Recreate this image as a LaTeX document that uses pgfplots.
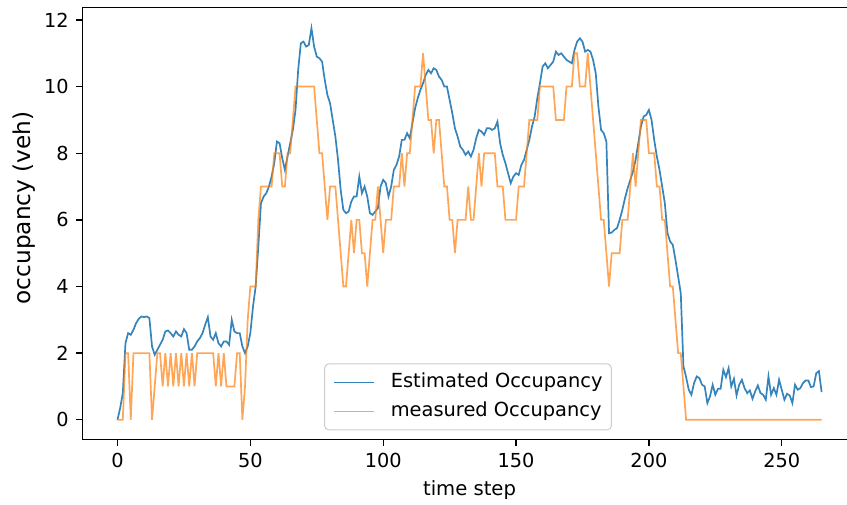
\documentclass[border=0pt]{standalone}
\usepackage{fontspec}
\setmainfont{DejaVu Sans}
\usepackage{pgfplots}
\usepackage{pgfplotstable}
\pgfplotsset{compat=1.18}
\definecolor{mplblue}{HTML}{1F77B4}
\definecolor{mplorange}{HTML}{FF7F0E}
\pgfplotstableread{
t E M
0 0.00 0
1 0.35 0
2 0.80 0
3 2.30 2
4 2.60 2
5 2.55 0
6 2.70 2
7 2.90 2
8 3.03 2
9 3.10 2
10 3.08 2
11 3.10 2
12 3.05 2
13 2.20 0
14 1.95 1
15 2.10 2
16 2.25 2
17 2.40 1
18 2.65 2
19 2.68 1
20 2.60 2
21 2.50 1
22 2.65 2
23 2.55 1
24 2.50 2
25 2.72 1
26 2.60 2
27 2.10 1
28 2.10 2
29 2.20 1
30 2.35 2
31 2.45 2
32 2.60 2
33 2.85 2
34 3.08 2
35 2.50 2
36 2.40 2
37 2.60 1
38 2.30 2
39 2.20 1
40 2.35 2
41 2.35 1
42 2.25 1
43 3.00 1
44 2.65 1
45 2.60 2
46 2.60 2
47 2.20 0
48 2.00 1
49 2.20 3
50 2.60 4
51 3.40 4
52 4.00 4
53 5.20 6
54 6.50 7
55 6.70 7
56 6.80 7
57 7.00 7
58 7.30 7
59 7.70 8
60 8.35 8
61 8.30 8
62 7.85 7
63 7.50 7
64 7.90 8
65 8.30 8
66 8.70 9
67 9.30 10
68 10.50 10
69 11.30 10
70 11.35 10
71 11.20 10
72 11.25 10
73 11.75 10
74 11.20 10
75 10.90 9
76 10.85 8
77 10.75 8
78 10.20 7
79 9.75 6
80 9.50 7
81 9.00 7
82 8.50 7
83 7.80 6
84 6.90 5
85 6.30 4
86 6.20 4
87 6.25 5
88 6.55 6
89 6.70 5
90 6.70 6
91 7.30 6
92 6.80 5
93 7.00 5
94 6.70 4
95 6.20 5
96 6.15 6
97 6.25 6
98 6.35 7
99 7.00 6
100 7.20 5
101 7.10 6
102 6.70 6
103 7.00 6
104 7.50 7
105 7.65 7
106 7.90 7
107 8.40 8
108 8.40 7
109 8.60 8
110 8.45 8
111 8.90 9
112 9.35 10
113 9.65 10
114 9.90 10
115 10.10 11
116 10.35 10
117 10.50 9
118 10.40 9
119 10.55 8
120 10.50 9
121 10.30 9
122 10.20 8
123 10.00 7
124 10.00 7
125 9.60 6
126 9.20 6
127 8.75 5
128 8.50 6
129 8.20 6
130 8.10 6
131 7.95 6
132 8.05 7
133 7.90 6
134 8.10 6
135 8.45 7
136 8.70 8
137 8.65 7
138 8.55 8
139 8.75 8
140 8.75 8
141 8.70 8
142 8.75 8
143 8.95 7
144 8.30 7
145 7.95 7
146 7.70 6
147 7.40 6
148 7.10 6
149 7.30 6
150 7.40 6
151 7.35 7
152 7.65 7
153 7.80 7
154 8.10 8
155 8.40 9
156 8.80 9
157 9.10 9
158 9.65 9
159 10.10 10
160 10.60 10
161 10.70 10
162 10.55 10
163 10.65 10
164 10.75 10
165 11.05 9
166 10.95 9
167 11.00 9
168 10.90 9
169 10.80 10
170 10.75 10
171 10.70 10
172 11.10 11
173 11.35 11
174 11.45 10
175 11.35 10
176 11.05 10
177 11.10 11
178 11.05 10
179 10.80 9
180 10.40 8
181 9.40 7
182 8.70 6
183 8.60 6
184 8.35 5
185 5.60 4
186 5.62 5
187 5.70 5
188 5.75 5
189 6.00 5
190 6.30 6
191 6.65 6
192 6.95 6
193 7.20 7
194 7.45 8
195 7.80 7
196 8.30 8
197 8.80 9
198 9.10 9
199 9.15 9
200 9.30 8
201 9.00 8
202 8.40 8
203 7.90 7
204 7.50 7
205 7.00 6
206 6.50 6
207 5.60 5
208 5.35 4
209 5.25 4
210 4.80 3
211 4.30 2
212 3.80 2
213 1.60 1
214 1.28 0
215 0.90 0
216 0.75 0
217 1.10 0
218 1.30 0
219 1.25 0
220 1.05 0
221 1.00 0
222 0.50 0
223 0.70 0
224 1.05 0
225 0.75 0
226 0.93 0
227 0.93 0
228 1.50 0
229 1.28 0
230 1.55 0
231 1.00 0
232 1.23 0
233 0.73 0
234 1.05 0
235 1.20 0
236 0.95 0
237 0.80 0
238 0.88 0
239 0.63 0
240 0.85 0
241 1.03 0
242 0.80 0
243 0.75 0
244 0.60 0
245 1.30 0
246 0.75 0
247 0.95 0
248 0.75 0
249 1.20 0
250 0.90 0
251 0.60 0
252 0.78 0
253 0.73 0
254 0.50 0
255 1.05 0
256 0.90 0
257 0.95 0
258 1.10 0
259 1.18 0
260 1.18 0
261 0.98 0
262 1.00 0
263 1.40 0
264 1.46 0
265 0.83 0
}\occ
\begin{document}
\begin{tikzpicture}
\begin{axis}[
  name=ax,
  scale only axis,
  width=387.25pt, height=216.05pt,
  xmin=-13.25, xmax=278.25, ymin=-0.59, ymax=12.38,
  xtick={0,50,...,250}, ytick={0,2,...,12},
  tick pos=left, tick align=outside,
  major tick length=3.3pt,
  every tick/.style={black, line width=0.7pt},
  axis line style={black, line width=0.7pt},
  ticklabel style={font=\fontsize{9.65}{11.5}\selectfont},
  /pgf/number format/assume math mode=true,
  xticklabel style={yshift=-0.3pt},
  xlabel={time step},
  ylabel={occupancy (veh)},
  every axis x label/.style={at={(axis description cs:0.5,0)}, anchor=center,
    yshift=-25.3pt, font=\fontsize{9.8}{11.5}\selectfont},
  every axis y label/.style={at={(axis description cs:0,0.5355)}, anchor=center,
    xshift=-29.15pt, rotate=90, font=\fontsize{11.6}{13.5}\selectfont},
  legend cell align=left,
  legend image code/.code={\draw[#1] (0pt,0pt) -- (20pt,0pt);},
  legend style={at={(0.498,0.0208)}, anchor=south,
    draw=black!20, line width=0.5pt, rounded corners=2pt,
    fill=white, fill opacity=0.8, text opacity=1,
    font=\fontsize{9.7}{11.5}\selectfont,
    inner xsep=4.35pt, inner ysep=4.4pt, row sep=4.8pt,
    nodes={inner xsep=0pt, inner ysep=0pt, text height=7.3pt, text depth=2.4pt},
    /tikz/every odd column/.append style={column sep=7.85pt}},
]
\addplot[mplblue, line width=0.85pt, opacity=0.9] table[x=t, y=E] {\occ};
\addlegendentry{Estimated Occupancy}
\addplot[mplorange, line width=0.85pt, opacity=0.7] table[x=t, y=M] {\occ};
\addlegendentry{measured Occupancy}
\end{axis}
\pgfresetboundingbox
\path[use as bounding box] ([xshift=-41.15pt,yshift=-32.3pt]ax.south west) rectangle ([xshift=382.35pt,yshift=219.7pt]ax.south west);
\end{tikzpicture}
\end{document}
